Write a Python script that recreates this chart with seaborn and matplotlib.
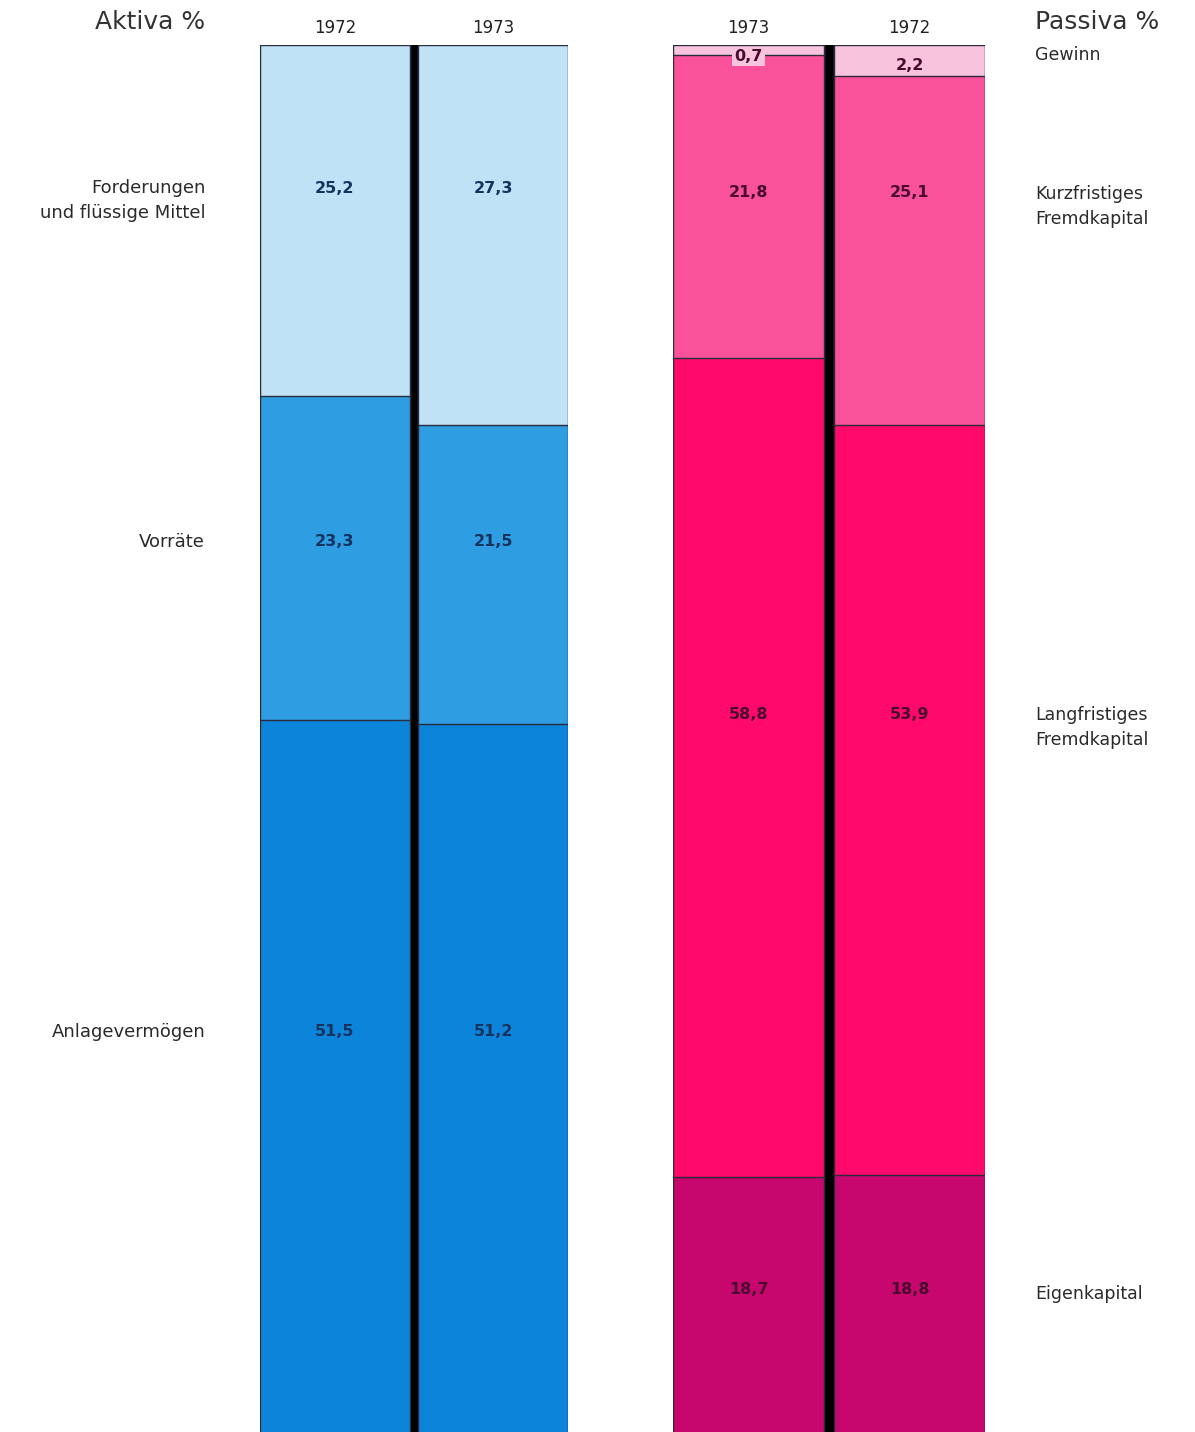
import matplotlib
matplotlib.use("Agg")
import matplotlib.pyplot as plt
import seaborn as sns
import pandas as pd
import numpy as np
from matplotlib.transforms import blended_transform_factory

# ---------------- data ----------------
aktiva_years = ["1972", "1973"]
aktiva_categories = ["Forderungen\nund flüssige Mittel", "Vorräte", "Anlagevermögen"]
aktiva_1972 = [25.2, 23.3, 51.5]
aktiva_1973 = [27.3, 21.5, 51.2]

passiva_years = ["1973", "1972"]
passiva_categories = ["Gewinn", "Kurzfristiges\nFremdkapital", "Langfristiges\nFremdkapital", "Eigenkapital"]
passiva_1973 = [0.7, 21.8, 58.8, 18.7]
passiva_1972 = [2.2, 25.1, 53.9, 18.8]

# ---------------- style ----------------
aktiva_colors = ["#bfe2f6", "#2f9de2", "#0b84da"]
passiva_colors = ["#f8c4dd", "#fa529a", "#ff0a6b", "#c7076d"]
aktiva_text = "#15335e"
passiva_text = "#4a0a30"
edge = "#2a2a3a"

# label vertical positions (percent units, layout only)
aktiva_value_y = [10.3, 35.7, 70.9]
aktiva_cat_y = [11.2, 35.7, 70.9]
passiva_value_y = [None, 10.6, 48.1, 89.4]
passiva_cat_y = [0.75, 11.6, 49.0, 89.7]
gewinn_value_y = {"1973": 0.85, "1972": 1.45}

sns.set_theme(style="white")
plt.rcParams["font.family"] = ["DejaVu Sans"]

W_PX, H_PX = 1195, 1432
fig = plt.figure(figsize=(W_PX / 100, H_PX / 100), dpi=100)
fig.patch.set_facecolor("white")

top_px = 45
bottom_px = 1437


def make_ax(x0, x1):
    return fig.add_axes([x0 / W_PX, 1 - bottom_px / H_PX,
                         (x1 - x0) / W_PX, (bottom_px - top_px) / H_PX])


def fmt(v):
    return f"{v:.1f}".replace(".", ",")


def draw_side(ax, years, values, colors, bar_w):
    cum = {y: np.cumsum(values[y]) for y in years}
    n = len(colors)
    for i in reversed(range(n)):
        df = pd.DataFrame({"year": years, "end": [cum[y][i] for y in years]})
        sns.barplot(data=df, x="year", y="end", order=years, color=colors[i],
                    saturation=1, width=bar_w, edgecolor=edge, linewidth=1.0,
                    errorbar=None, ax=ax)
    ax.set_ylim(100, 0)
    ax.set_xlim(-bar_w / 2, 1 + bar_w / 2)
    ax.set_facecolor("black")
    for s in ax.spines.values():
        s.set_visible(False)
    ax.set_yticks([])
    ax.set_xlabel("")
    ax.set_ylabel("")
    ax.tick_params(axis="x", top=False, bottom=False, labeltop=True,
                   labelbottom=False, length=0, pad=6, labelsize=12,
                   labelcolor="#222222")
    return cum


# ---------------- Aktiva ----------------
ax1 = make_ax(260, 568)
bw1 = 150 / 159
aktiva_vals = {"1972": aktiva_1972, "1973": aktiva_1973}
draw_side(ax1, aktiva_years, aktiva_vals, aktiva_colors, bw1)
for j, y in enumerate(aktiva_years):
    for i, v in enumerate(aktiva_vals[y]):
        ax1.text(j, aktiva_value_y[i], fmt(v), ha="center", va="center",
                 fontsize=11.5, color=aktiva_text, fontweight="bold")
tr1 = blended_transform_factory(ax1.transAxes, ax1.transData)
for i, c in enumerate(aktiva_categories):
    ax1.text(-0.178, aktiva_cat_y[i], c, transform=tr1, ha="right", va="center",
             fontsize=13, color="#2a2a2a", linespacing=1.5, clip_on=False)

# ---------------- Passiva ----------------
ax2 = make_ax(673, 985)
bw2 = 151 / 161
passiva_vals = {"1973": passiva_1973, "1972": passiva_1972}
draw_side(ax2, passiva_years, passiva_vals, passiva_colors, bw2)
for j, y in enumerate(passiva_years):
    for i, v in enumerate(passiva_vals[y]):
        if i == 0:
            yy = gewinn_value_y[y]
            ax2.text(j, yy, fmt(v), ha="center", va="center", fontsize=11.5,
                     color=passiva_text, fontweight="bold",
                     bbox=dict(boxstyle="square,pad=0.12", fc=passiva_colors[0],
                               ec="none") if v < 1.5 else None)
        else:
            ax2.text(j, passiva_value_y[i], fmt(v), ha="center", va="center",
                     fontsize=11.5, color=passiva_text, fontweight="bold")
tr2 = blended_transform_factory(ax2.transAxes, ax2.transData)
for i, c in enumerate(passiva_categories):
    ax2.text(1.16, passiva_cat_y[i], c, transform=tr2, ha="left", va="center",
             fontsize=12.5, color="#2a2a2a", linespacing=1.5, clip_on=False)

# ---------------- titles ----------------
fig.text(205 / W_PX, 1 - 22 / H_PX, "Aktiva %", ha="right", va="center",
         fontsize=18, color="#333333")
fig.text(1035 / W_PX, 1 - 22 / H_PX, "Passiva %", ha="left", va="center",
         fontsize=18, color="#333333")

fig.savefig("out.png", dpi=100, facecolor="white")
